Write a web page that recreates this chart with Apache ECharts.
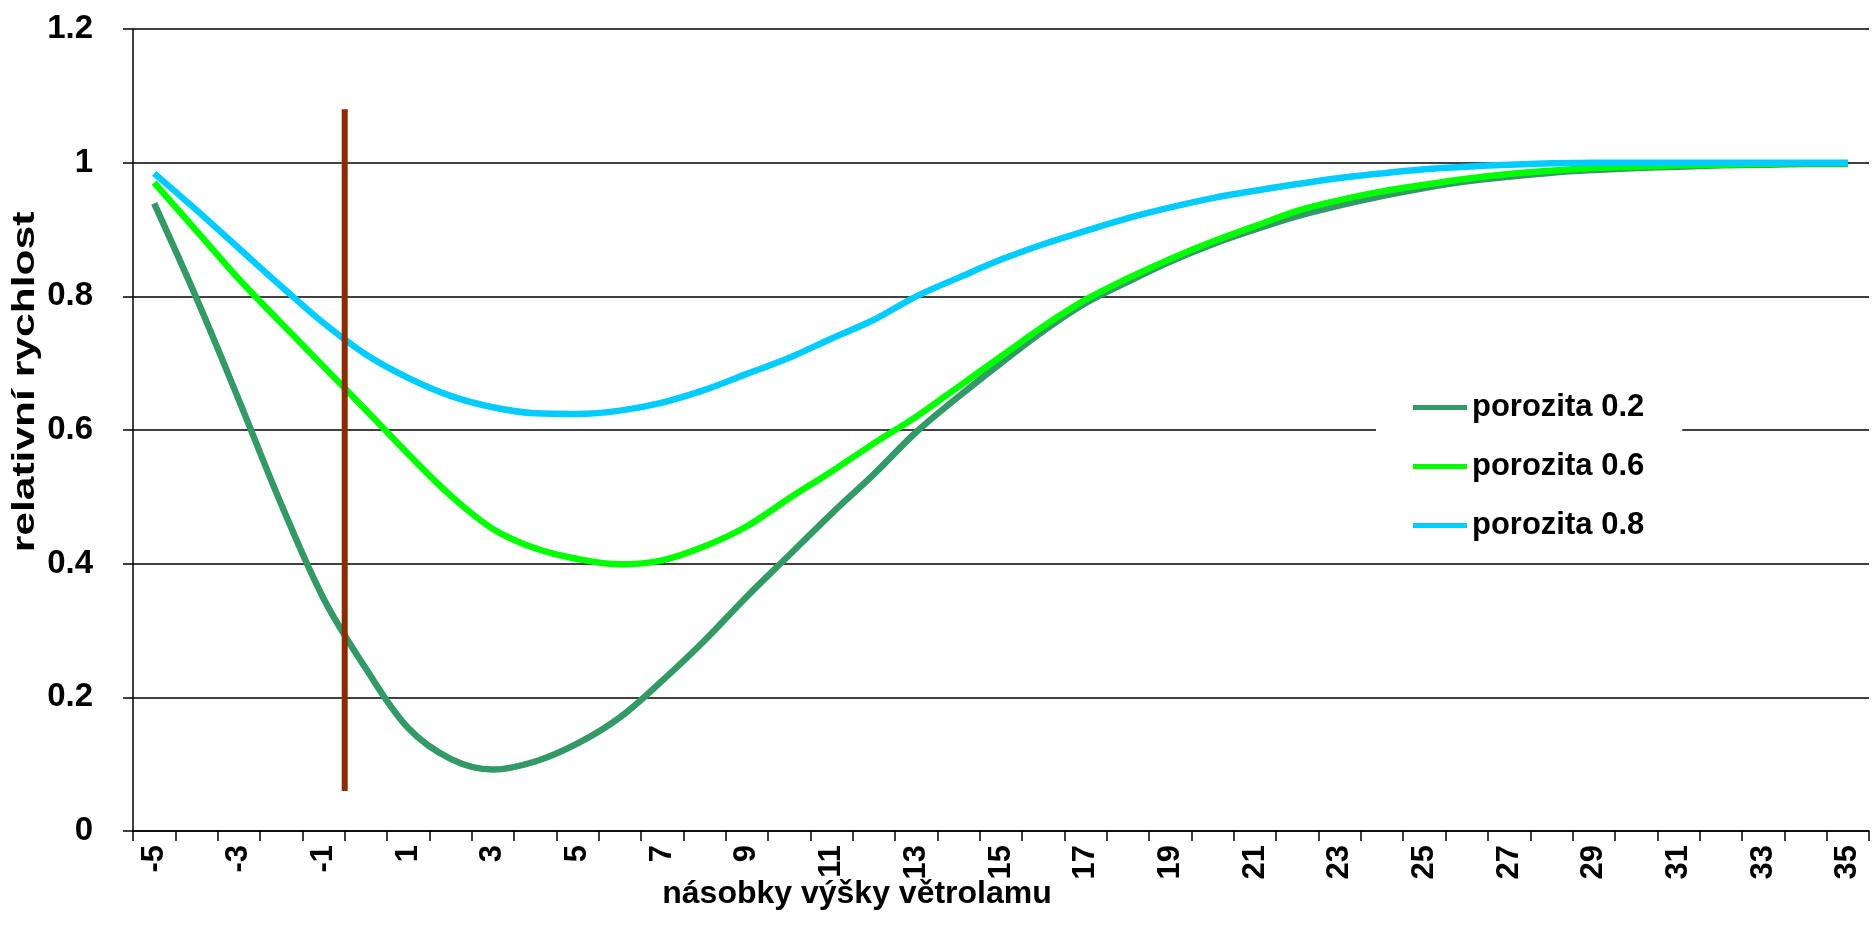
<!DOCTYPE html>
<html>
<head>
<meta charset="utf-8">
<script src="https://cdn.jsdelivr.net/npm/echarts@6/dist/echarts.min.js"></script>
<style>
html,body{margin:0;padding:0;background:#fff;}
#c{width:1873px;height:945px;}
</style>
</head>
<body>
<div id="c"></div>
<script>
// categories: multiples of windbreak height
const categories = ['-5','-4','-3','-2','-1','0','1','2','3','4','5','6','7','8','9','10','11','12','13','14','15','16','17','18','19','20','21','22','23','24','25','26','27','28','29','30','31','32','33','34','35'];
const seriesNames = ['porozita 0.2','porozita 0.6','porozita 0.8'];
const por02 = [0.939,0.797,0.645,0.489,0.348,0.243,0.154,0.108,0.092,0.104,0.131,0.170,0.225,0.285,0.351,0.413,0.475,0.534,0.597,0.650,0.700,0.748,0.790,0.822,0.852,0.878,0.900,0.920,0.936,0.950,0.962,0.972,0.979,0.985,0.989,0.992,0.994,0.996,0.997,0.998,0.998];
const por06 = [0.970,0.898,0.826,0.760,0.695,0.630,0.564,0.502,0.452,0.423,0.407,0.399,0.405,0.426,0.456,0.498,0.538,0.580,0.620,0.665,0.710,0.755,0.795,0.827,0.856,0.882,0.905,0.928,0.944,0.957,0.967,0.976,0.983,0.988,0.992,0.994,0.996,0.997,0.998,0.999,0.999];
const por08 = [0.984,0.929,0.872,0.815,0.760,0.713,0.678,0.651,0.634,0.625,0.624,0.629,0.641,0.660,0.684,0.708,0.737,0.765,0.800,0.828,0.855,0.878,0.898,0.917,0.933,0.947,0.958,0.968,0.977,0.984,0.990,0.994,0.997,0.999,1.000,1.000,1.000,1.000,1.000,1.000,1.000];
// windbreak marker line (x position between categories -1 and 0, y range)
const windbreakX = [-0.5, -0.5];
const windbreakY = [0.06, 1.08];
const yTicks = {min: 0, max: 1.2, step: 0.2};
const xTitle = 'násobky výšky větrolamu';
const yTitle = 'relativní rychlost';

const FONT = '"Liberation Sans", Arial, sans-serif';
const colors = ['#339966', '#00FF00', '#00CCFF'];
const chart = echarts.init(document.getElementById('c'), null, {renderer: 'canvas'});

const lineSeries = seriesNames.map((n, i) => ({
  name: n,
  type: 'line',
  data: [por02, por06, por08][i],
  smooth: 0.35,
  showSymbol: false,
  symbol: 'none',
  lineStyle: {width: 6.5, color: colors[i]},
  itemStyle: {color: colors[i]},
  z: 3 + i,
  animation: false
}));

lineSeries.push({
  name: 'windbreak',
  type: 'line',
  xAxisIndex: 1,
  data: windbreakX.map((x, i) => [x, windbreakY[i]]),
  showSymbol: false,
  symbol: 'none',
  lineStyle: {width: 6, color: '#8C2A00', cap: 'butt'},
  z: 10,
  animation: false
});

chart.setOption({
  animation: false,
  backgroundColor: '#fff',
  grid: {left: 133, right: 4, top: 29, bottom: 114, containLabel: false},
  legend: {
    data: seriesNames,
    orient: 'vertical',
    left: 1376,
    top: 380,
    backgroundColor: '#fff',
    padding: [12, 38, 15, 37],
    itemGap: 28,
    itemWidth: 54,
    itemHeight: 5,
    icon: 'rect',
    textStyle: {fontFamily: FONT, fontSize: 31, fontWeight: 'bold', color: '#000'},
    z: 20
  },
  xAxis: [{
    type: 'category',
    data: categories,
    boundaryGap: true,
    axisLine: {show: true, onZero: false, lineStyle: {color: '#000', width: 1.5}},
    axisTick: {show: true, interval: 0, length: 10, inside: false, lineStyle: {color: '#000', width: 1.5}},
    axisLabel: {interval: 1, rotate: 90, margin: 14, color: '#000', fontFamily: FONT, fontSize: 31, fontWeight: 'bold'},
    splitLine: {show: false}
  }, {
    type: 'value',
    min: -5.5,
    max: 35.5,
    show: false
  }],
  yAxis: {
    type: 'value',
    min: yTicks.min,
    max: yTicks.max,
    interval: yTicks.step,
    axisLine: {show: true, onZero: false, lineStyle: {color: '#000', width: 1.5}},
    axisTick: {show: true, length: 10, lineStyle: {color: '#000', width: 1.5}},
    axisLabel: {margin: 40, color: '#000', fontFamily: FONT, fontSize: 33, fontWeight: 'bold'},
    splitLine: {show: true, lineStyle: {color: '#000', width: 1.5}}
  },
  graphic: [{
    type: 'text',
    x: 857, y: 894,
    style: {text: xTitle, font: 'bold 32px ' + FONT, fill: '#000', align: 'center', verticalAlign: 'middle'}
  }, {
    type: 'text',
    x: 25, y: 382,
    rotation: Math.PI / 2,
    scaleX: 1.33,
    style: {text: yTitle, font: 'bold 32px ' + FONT, fill: '#000', align: 'center', verticalAlign: 'middle'}
  }],
  series: lineSeries
});
</script>
</body>
</html>
